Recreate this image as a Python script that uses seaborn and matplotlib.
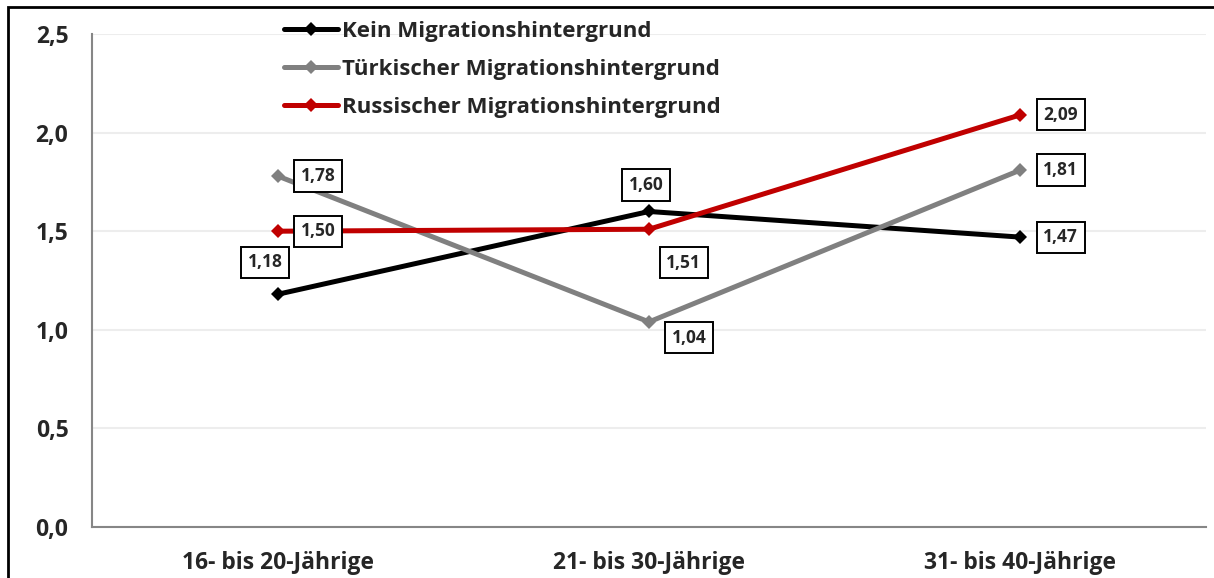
import pandas as pd
import numpy as np
import seaborn as sns
import matplotlib.pyplot as plt
from matplotlib.ticker import FuncFormatter
from matplotlib.patches import Rectangle

# Daten
kategorien = ['16- bis 20-Jährige', '21- bis 30-Jährige', '31- bis 40-Jährige']
kein = [1.18, 1.60, 1.47]
tuerkisch = [1.78, 1.04, 1.81]
russisch = [1.50, 1.51, 2.09]
gruppen = ['Kein Migrationshintergrund', 'Türkischer Migrationshintergrund', 'Russischer Migrationshintergrund']
farben = ['#000000', '#808080', '#c00000']

df = pd.DataFrame({
    'alter': kategorien * 3,
    'wert': kein + tuerkisch + russisch,
    'gruppe': np.repeat(gruppen, 3),
})

sns.set_style('white')
plt.rcParams['font.family'] = ['Open Sans', 'DejaVu Sans']
plt.rcParams['font.weight'] = 'bold'

fig = plt.figure(figsize=(12.14, 5.78), dpi=100)
ax = fig.add_axes([92 / 1214, 51 / 578, 1114 / 1214, 493 / 578])

sns.lineplot(data=df, x='alter', y='wert', hue='gruppe', palette=farben,
             marker='D', markersize=7.5, markeredgewidth=0, linewidth=3.6,
             sort=False, ax=ax)

ax.set_xlim(-0.5, 2.5)
ax.set_ylim(0, 2.5)
ax.set_yticks(np.arange(0, 2.51, 0.5))
ax.yaxis.set_major_formatter(FuncFormatter(lambda v, p: f'{v:.1f}'.replace('.', ',')))
ax.set_xticks(range(3))
ax.set_xticklabels(kategorien)
ax.set_xticks([-0.5, 0.5, 1.5, 2.5], minor=True)
ax.tick_params(axis='x', which='major', length=0, pad=17, labelsize=16.5)
ax.tick_params(axis='x', which='minor', length=6, color='#868686', width=1.2, direction='out')
ax.tick_params(axis='y', length=6, color='#868686', width=1.2, direction='out', labelsize=16.5, pad=11)
ax.set_xlabel('')
ax.set_ylabel('')
ax.grid(axis='y', color='#ededed', linewidth=1.5)
ax.set_axisbelow(True)
for s in ['top', 'right']:
    ax.spines[s].set_visible(False)
for s in ['left', 'bottom']:
    ax.spines[s].set_color('#868686')
    ax.spines[s].set_linewidth(1.5)

# Datenbeschriftungen (Versatz in Punkten)
versatz = {
    0: [(-9, 23), (-2, 19), (29, 0)],
    1: [(29, 0), (29, -11.5), (29, 0)],
    2: [(29, 0), (25, -24), (29, 0)],
}
for i, werte in enumerate([kein, tuerkisch, russisch]):
    for j, w in enumerate(werte):
        ax.annotate(f'{w:.2f}'.replace('.', ','), (j, w), xytext=versatz[i][j],
                    textcoords='offset points', ha='center', va='center',
                    fontsize=12.5, fontweight='bold',
                    bbox=dict(boxstyle='square,pad=0.38', fc='white', ec='black', lw=1.4))

leg = ax.legend(loc='upper left', bbox_to_anchor=(284 / 1214, 1 - 21 / 578),
                bbox_transform=fig.transFigure, frameon=False, fontsize=16,
                handlelength=2.45, handletextpad=0.17, labelspacing=0.76,
                borderaxespad=0, borderpad=0)
for t in leg.get_texts():
    t.set_fontweight('bold')

# Rahmen um das Diagramm
fig.patches.append(Rectangle((8 / 1214, -0.05), 1.1, 1 - 7 / 578 + 0.05,
                             transform=fig.transFigure, fill=False, ec='black', lw=2))

fig.savefig('out.png', dpi=100)
